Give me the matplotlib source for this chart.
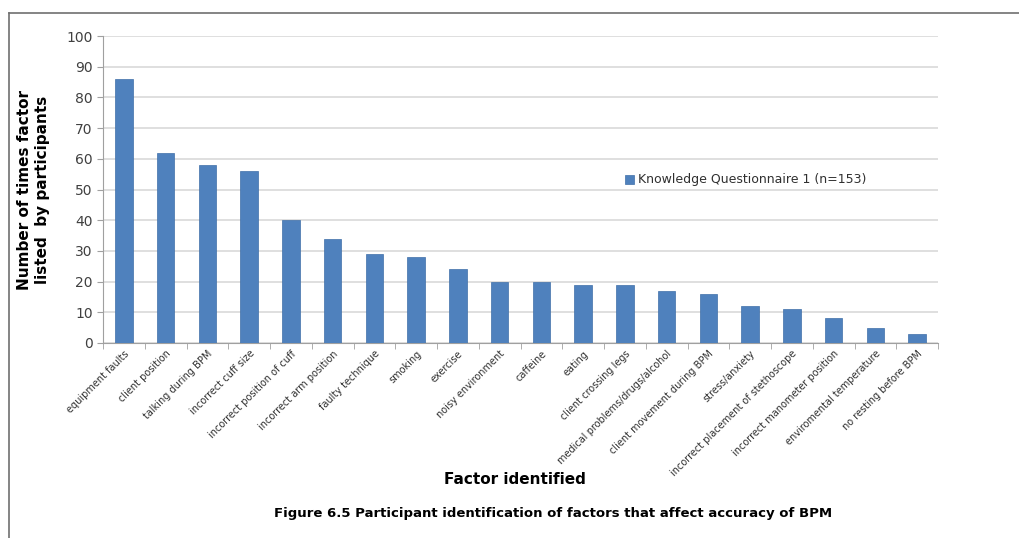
import matplotlib.pyplot as plt
import numpy as np
from matplotlib.lines import Line2D

factors = ['equipment faults', 'client position', 'talking during BPM', 'incorrect cuff size',
           'incorrect position of cuff', 'incorrect arm position', 'faulty technique', 'smoking',
           'exercise', 'noisy environment', 'caffeine', 'eating', 'client crossing legs',
           'medical problems/drugs/alcohol', 'client movement during BPM', 'stress/anxiety',
           'incorrect placement of stethoscope', 'incorrect manometer position',
           'enviromental temperature', 'no resting before BPM']
counts = [86, 62, 58, 56, 40, 34, 29, 28, 24, 20, 20, 19, 19, 17, 16, 12, 11, 8, 5, 3]

fig = plt.figure(figsize=(10.19, 5.38), dpi=100)
ax = fig.add_axes([103/1019, 1-343/538, (938-103)/1019, (343-36)/538])

x = np.arange(len(factors))
ax.bar(x, counts, width=0.42, color='#4f81bd', edgecolor='#3f6fa8', linewidth=0.5,
       label='Knowledge Questionnaire 1 (n=153)', zorder=3)

ax.set_xlim(-0.5, len(factors) - 0.5)
ax.set_ylim(0, 100)
ax.set_yticks(range(0, 101, 10))
ax.tick_params(axis='y', labelsize=10, colors='#404040', length=4, color='#a0a0a0')
ax.yaxis.grid(True, color='#d9d9d9', linewidth=1.2, zorder=0)

# category labels centred on bars, ticks at the boundaries
ax.set_xticks(x)
ax.set_xticklabels(factors, rotation=45, ha='right', rotation_mode='anchor',
                   fontsize=7, color='#303030')
ax.tick_params(axis='x', length=0, pad=4)
ax.set_xticks(np.arange(-0.5, len(factors), 1), minor=True)
ax.tick_params(axis='x', which='minor', length=4, color='#a0a0a0')

for s in ['top', 'right']:
    ax.spines[s].set_visible(False)
ax.spines['left'].set_color('#a0a0a0')
ax.spines['bottom'].set_color('#a0a0a0')

ax.set_ylabel('Number of times factor\nlisted  by participants', fontsize=11,
              fontweight='bold', labelpad=12)
fig.text(515/1019, 1 - 480/538, 'Factor identified', fontsize=11,
         fontweight='bold', ha='center', va='center')
fig.text(553/1019, 1 - 513/538,
         'Figure 6.5 Participant identification of factors that affect accuracy of BPM',
         fontsize=9.5, fontweight='bold', ha='center', va='center')

ax.legend(loc='center left', bbox_to_anchor=((614-103)/835, (343-180)/307), frameon=False,
          fontsize=9, handlelength=0.7, handleheight=0.7, handletextpad=0.3,
          labelcolor='#303030')

# outer frame
fig.add_artist(Line2D([9/1019, 1], [1-13/538, 1-13/538], color='#707070', lw=1.2))
fig.add_artist(Line2D([9/1019, 9/1019], [1-13/538, 0], color='#707070', lw=1.2))

fig.savefig('out.png', dpi=100)
